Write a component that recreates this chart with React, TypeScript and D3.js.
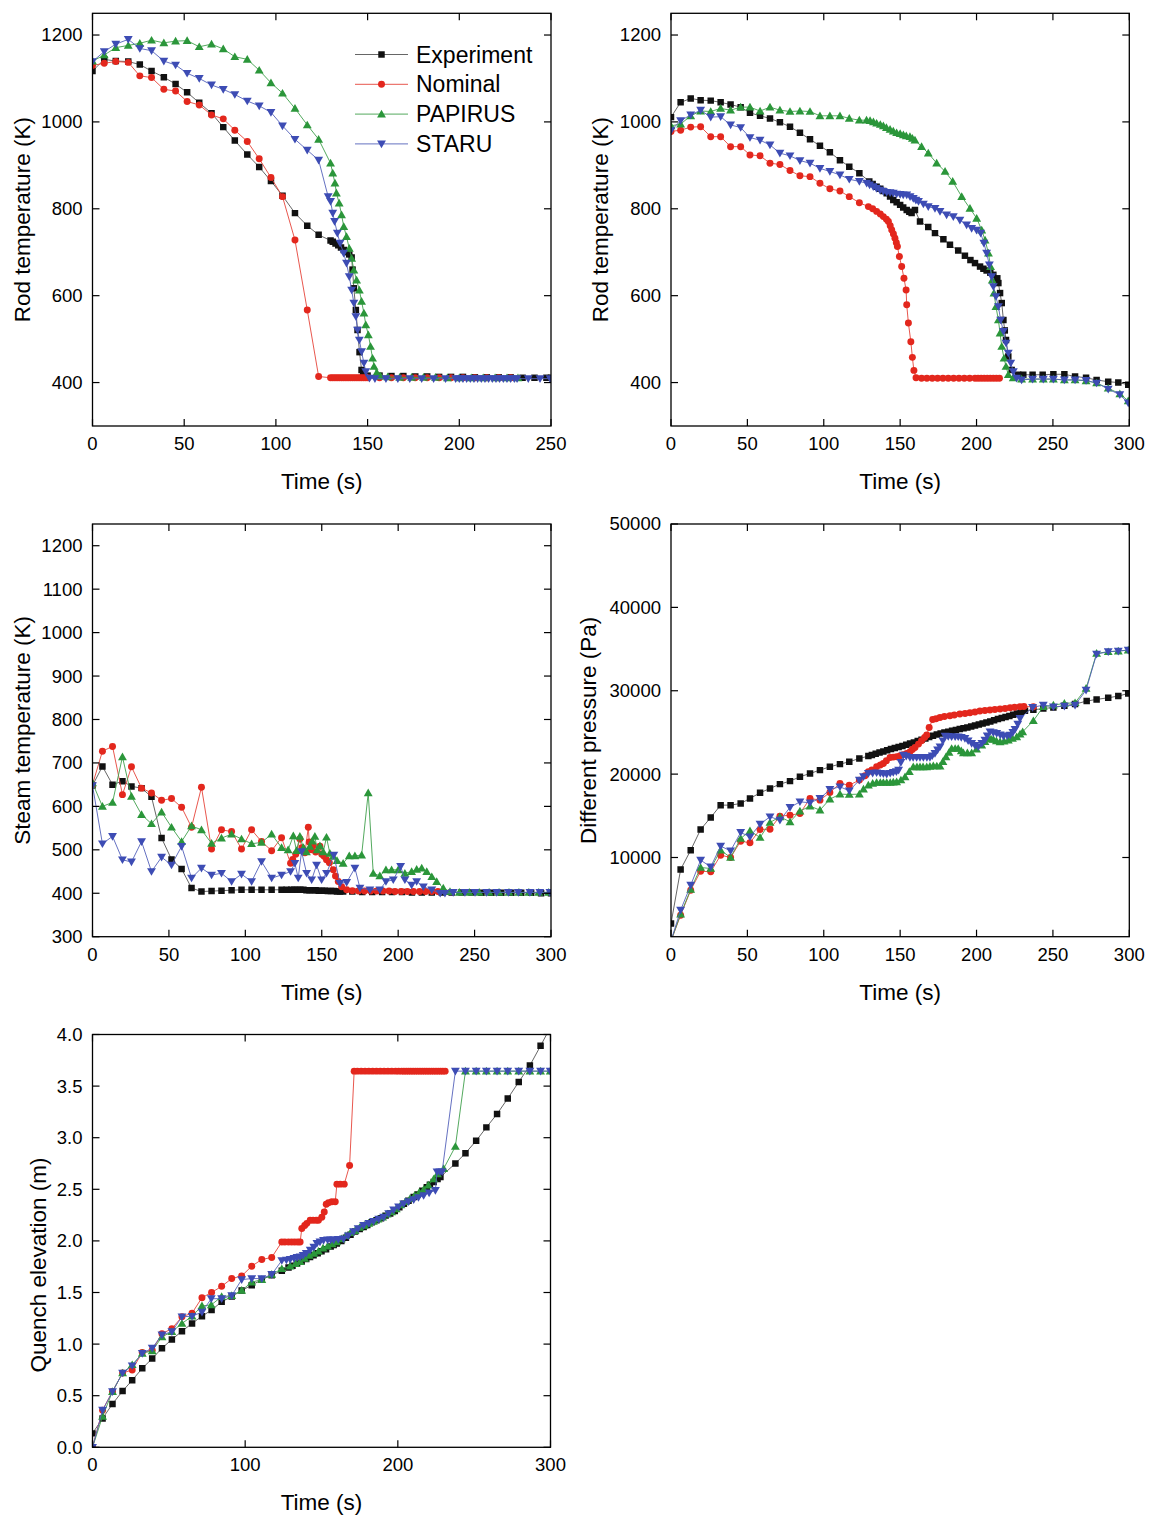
import * as d3 from "d3";

type Pt = [number, number];

// ── Series styling ─────────────────────────────────────────────────────────
const SERIES_NAMES = ["Experiment", "Nominal", "PAPIRUS", "STARU"];
const COLORS = ["#111111", "#e3271d", "#2b963a", "#3d4cb4"];
const LINE_COLORS = ["#555555", "#e5443a", "#3f9f4c", "#5461ba"];
const FONT = "'Liberation Sans', Arial, Helvetica, sans-serif";

// ── Panel 1: rod temperature, 0–250 s ─────────────────────────────────────
const p1Exp: Pt[] = [[0,1117],[6.4,1144],[12.7,1140],[19.5,1139],[25.8,1132],[32.2,1117],[38.9,1103],[45.3,1087],[51.6,1068],[58.2,1044],[64.9,1020],[71.3,988],[77.6,957],[84.4,925],[90.9,896],[97.3,864],[103.6,830],[110.4,790],[117.1,761],[123.3,740],[129.8,727],[131,724],[132.5,720],[134,716],[135.5,711],[137,705],[138.5,700],[140,695],[141.3,688],[141.8,660],[142.5,617],[143.6,567],[144.5,521],[145.6,470],[146.7,429],[147.6,418],[150,416],[156.5,416],[163,415],[169.5,415],[176,414],[182.5,414],[189,413],[195.5,413],[202,413],[208.5,412],[215,412],[221.5,412],[228,412],[234.5,411],[241,411],[247.5,411],[250,411]];
const p1Nom: Pt[] = [[0,1130],[6.4,1135],[12.7,1139],[19.5,1137],[25.8,1106],[32.2,1102],[38.9,1075],[45.3,1071],[51.6,1047],[58.2,1039],[64.9,1016],[71.3,1007],[77.6,981],[84.4,955],[90.9,915],[97.3,872],[103.6,828],[110.4,728],[117.1,567],[123.3,414],[129.8,411],[131,411],[132.2,411],[133.4,411],[134.6,411],[135.8,411],[137,411],[138.2,411],[139.4,411],[140.6,411],[141.8,411],[143,411],[144.2,411],[145.4,411],[146.6,411],[147.8,411],[149,411],[150.2,411],[156.5,411],[163,411],[169.5,411],[176,411],[182.5,411],[189,411],[195.5,411],[202,411],[208.5,411],[215,411],[221.5,411],[228,411]];
const p1Pap: Pt[] = [[0,1140],[6.4,1154],[12.7,1171],[19.5,1176],[25.8,1181],[32.2,1188],[38.9,1182],[45.3,1186],[51.6,1187],[58.2,1173],[64.9,1179],[71.3,1168],[77.6,1150],[84.4,1144],[90.9,1119],[97.3,1090],[103.6,1066],[110.4,1031],[117.1,993],[123.3,960],[129.8,905],[131,882],[132.2,859],[133,836],[134.5,813],[135.8,786],[137,759],[138.5,736],[140,709],[141.3,686],[142.5,659],[144,636],[145.5,613],[146.7,587],[148,560],[149,533],[150.4,510],[151.6,483],[152.7,456],[153.5,437],[155,423],[157,415],[161,413],[167.5,412],[174,412],[180.5,412],[187,412],[193.5,411],[200,411],[206.5,411],[213,411],[219.5,411],[226,411],[232,411]];
const p1Sta: Pt[] = [[0,1139],[6.4,1162],[12.7,1179],[19.5,1190],[25.8,1169],[32.2,1164],[38.9,1140],[45.3,1131],[51.6,1112],[58.2,1100],[64.9,1085],[71.3,1075],[77.6,1063],[84.4,1048],[90.9,1037],[97.3,1022],[103.6,991],[110.4,960],[117.1,935],[123.3,912],[128.5,828],[129.8,817],[131,790],[132,771],[133.5,744],[135,721],[136.9,698],[138.5,675],[140,644],[141.3,613],[142.5,583],[143.6,552],[144.5,521],[145.5,498],[146.7,471],[148,445],[149,425],[151,410],[154,409],[160,409],[166.5,409],[173,409],[179.5,409],[186,409],[192.5,409],[198,409],[200,409],[202,409],[204,409],[206,409],[208,409],[210,409],[212,409],[214,409],[216,409],[218,409],[220,409],[222,409],[224,409],[226,409],[228,409],[230,409],[231.5,409],[237.6,409],[244,409],[249.5,409]];

// ── Panel 2: rod temperature, 0–300 s ─────────────────────────────────────
const p2Exp: Pt[] = [[0,1011],[6.3,1045],[12.9,1054],[19.4,1050],[26,1049],[32.5,1045],[39,1040],[45.6,1034],[51.7,1021],[58.3,1014],[64.8,1008],[71.3,999],[77.9,989],[84.4,975],[91,960],[97.5,945],[104,930],[110.6,912],[116.7,897],[123.3,882],[129.8,863],[132,857],[134.6,851],[137,846],[139,841],[141.2,836],[143.4,828],[145.5,820],[147.7,815],[150,809],[152,803],[154.3,797],[156,793],[157.5,790],[159.7,797],[163,771],[168.4,758],[172.8,744],[178.3,730],[182.6,717],[188,704],[192.4,692],[196,682],[199,675],[202.3,667],[204.5,662],[206.6,658],[209,653],[211,648],[213.6,640],[214.3,629],[215.4,606],[216.5,583],[217.6,544],[218.5,520],[219.3,498],[220.8,460],[223,429],[227.3,418],[230.6,418],[236.7,418],[243.3,418],[250.3,419],[257.5,419],[264.5,414],[271.7,411],[278.6,406],[286.2,402],[292.8,400],[299.3,395]];
const p2Nom: Pt[] = [[0,978],[6.3,981],[12.9,988],[19.4,989],[26,966],[32.5,966],[39,943],[45.6,943],[51.7,924],[58.3,922],[64.8,905],[71.3,902],[77.9,888],[84.4,876],[91,874],[97.5,859],[104,846],[110.6,841],[116.7,828],[123.3,814],[129.2,805],[132,800],[134.6,794],[137,788],[139,782],[141,776],[142.3,771],[143.5,761],[144.5,751],[145.6,742],[146.6,732],[147.5,722],[148.2,713],[149.5,690],[151,667],[152.5,640],[153.9,613],[154.3,579],[155.4,537],[157,494],[158,458],[159,428],[160.4,411],[164,410],[167.5,410],[171,410],[174.5,410],[178,410],[181.5,410],[185,410],[188.5,410],[192,410],[195.5,410],[199,410],[201,410],[203,410],[205,410],[207,410],[209,410],[211,410],[213,410],[215,410]];
const p2Pap: Pt[] = [[0,991],[6.3,995],[12.9,1014],[19.4,1025],[26,1024],[32.5,1031],[39,1027],[45.6,1034],[51.7,1034],[58.3,1025],[64.8,1034],[71.3,1027],[77.9,1024],[84.4,1025],[91,1024],[97.5,1014],[104,1014],[110.6,1014],[116.7,1008],[123.3,1004],[128,1004],[130.3,1003],[132.5,1000],[134.6,997],[137,994],[139,991],[141,987],[143.4,983],[145.5,979],[147.7,975],[150,973],[152.1,970],[154,968],[156.4,966],[158,962],[159.7,958],[164,943],[168.4,928],[173.9,905],[179.4,886],[184.4,863],[190.3,828],[195.7,801],[200.1,778],[203.4,751],[205.6,728],[207.8,698],[209.2,667],[210.3,636],[211.4,606],[212.7,575],[214.3,544],[215.4,514],[216.5,483],[218,456],[219.3,437],[220.8,418],[224,411],[229.5,408],[236.7,408],[243.7,408],[250.3,408],[257.5,406],[264.5,406],[271.7,404],[278.6,399],[286.2,387],[293.8,374],[299.3,358]];
const p2Sta: Pt[] = [[0,980],[6.3,1003],[12.9,1016],[19.4,1027],[26,1011],[32.5,1012],[39,993],[45.6,987],[51.7,964],[58.3,958],[64.8,947],[71.3,928],[77.9,922],[84.4,911],[91,905],[97.5,893],[104,886],[110.6,878],[116.7,868],[123.3,863],[128.1,859],[130,855],[132.4,851],[134.5,847],[136.8,843],[139,840],[141.2,838],[143.4,837],[145.5,836],[147.7,834],[150,833],[152,832],[154.3,832],[156.5,828],[158.6,824],[160.3,820],[162,817],[165.2,811],[168.4,805],[172.8,801],[176.1,794],[180.4,786],[184.8,782],[189.1,774],[193.5,763],[196.8,755],[200,751],[202.7,744],[204.8,721],[206.6,698],[208.4,671],[209.9,644],[211,621],[212.7,598],[214.3,575],[215.8,544],[217.6,518],[219.3,491],[220.8,468],[222.4,445],[224.1,425],[226.2,410],[229.5,406],[236.7,408],[243.7,408],[250.3,408],[257.5,406],[264.5,406],[271.7,405],[278.6,399],[286.2,385],[293.8,372],[299.3,353]];

// ── Panel 3: steam temperature ─────────────────────────────────────────────
const p3Exp: Pt[] = [[0,648],[6.5,692],[13.1,650],[19.6,658],[25.5,646],[32.1,642],[38.6,622],[45.2,527],[51.7,478],[58.3,456],[64.8,412],[71.3,404],[77.9,405],[84.4,406],[91,407],[97.5,408],[104.1,408],[110.6,408],[117.2,408],[123.7,408],[127,408],[130,408],[132,408],[134,408],[136,408],[138,408],[140,407],[142,407],[144,407],[146,407],[148,406],[150,406],[152,406],[154,405],[156,405],[158,405],[160,404],[162,404],[164,404],[170,404],[176.5,403],[183,403],[189.5,403],[196,403],[202.5,403],[209,402],[215.5,402],[222,402],[228.5,402],[235,402],[241.5,402],[248,402],[254.5,401],[261,401],[267.5,401],[274,401],[280.5,401],[287,401],[293.5,400],[300,400]];
const p3Nom: Pt[] = [[0,650],[6.5,727],[13.1,738],[19.6,627],[25.5,691],[32.1,642],[38.6,631],[45.2,614],[51.7,618],[58.3,598],[64.8,552],[71.3,644],[77.9,502],[84.4,546],[91,542],[97.5,502],[104.1,546],[110.6,519],[117.2,498],[123.7,528],[129.6,469],[131,478],[133,490],[135.7,525],[137,505],[139,493],[141.2,552],[141.8,518],[143,500],[144.4,510],[146,495],[148.8,508],[150,490],[151.5,485],[153.1,477],[155,470],[157.5,454],[159,440],[160.8,427],[163,415],[166.3,408],[170,406],[174,405],[178,405],[182,405],[186,405],[190,405],[194,405],[198,404],[202,404],[206,404],[210,404],[214,404],[218,404],[222,404],[226,404]];
const p3Pap: Pt[] = [[0,654],[6.5,600],[13.1,609],[19.6,714],[25.5,623],[32.1,581],[38.6,560],[45.2,587],[51.7,552],[58.3,519],[64.8,555],[71.3,546],[77.9,515],[84.4,527],[91,536],[97.5,525],[104.1,514],[110.6,517],[117.2,536],[123.7,505],[128,500],[131.4,532],[133.5,498],[135.7,531],[138,505],[140,495],[142.2,508],[143.8,520],[145.5,531],[147,500],[148.8,509],[151,495],[153.1,529],[155.3,492],[157.5,485],[160,475],[164,469],[168,486],[171.7,486],[176.1,488],[180.4,631],[183.7,446],[188,440],[192,454],[195.7,454],[200,454],[204.4,446],[208.8,450],[212.1,455],[215.4,458],[218.7,450],[222,438],[225.2,427],[229.5,412],[233.9,404],[240,402],[246.5,402],[253,402],[259.5,402],[266,402],[272.5,402],[279,402],[285.5,402],[292,402],[298.5,402]];
const p3Sta: Pt[] = [[0,648],[6.5,514],[13.1,531],[19.6,477],[25.5,472],[32.1,519],[38.6,450],[45.2,483],[51.7,465],[58.3,508],[64.8,435],[71.3,458],[77.9,442],[84.4,446],[91,427],[97.5,444],[104.1,427],[110.6,473],[117.2,435],[123.7,442],[129.6,450],[132.4,469],[134.6,435],[136.8,496],[140.1,446],[143.4,431],[146.6,465],[149.9,431],[153.1,446],[157.9,488],[161.9,423],[166.3,425],[171.7,458],[175,412],[181.5,408],[188,408],[192,427],[196.8,431],[201.6,462],[204.4,431],[208.8,419],[212.1,427],[216.5,415],[222,408],[227.5,400],[230.6,400],[236,402],[243.7,402],[250.3,402],[257.9,402],[264.5,402],[272.1,402],[278.6,402],[286.2,402],[292.7,402],[299.3,402]];

// ── Panel 4: differential pressure ─────────────────────────────────────────
const p4Exp: Pt[] = [[0,2080],[6.3,8560],[12.9,10880],[19.4,13360],[26,14800],[32.5,16280],[39,16280],[45.6,16480],[51.7,17080],[58.3,17760],[64.8,18280],[71.3,18800],[77.9,19160],[84.4,19680],[91,20080],[97.5,20480],[104,20880],[110.6,21200],[116.7,21480],[123.3,21880],[129.2,22160],[131.5,22300],[134,22440],[136.5,22580],[139,22720],[141.5,22860],[144,23000],[146.5,23120],[149,23240],[151.5,23380],[154,23520],[156.5,23660],[159,23800],[161.5,23960],[164,24120],[166.5,24280],[169,24440],[171.5,24600],[174,24760],[176.5,24880],[179,24980],[181.5,25080],[184,25200],[186.5,25300],[189,25400],[191.5,25500],[194,25600],[196.5,25700],[199,25820],[201.5,25940],[204,26060],[206.5,26180],[209,26320],[211.5,26460],[214,26600],[216.5,26720],[219,26840],[221.5,26980],[224,27120],[226.5,27260],[229,27420],[231.7,27600],[237.2,27720],[243.7,27860],[250.3,28000],[257.5,28200],[264.5,28400],[272.1,28760],[278.6,28960],[286.2,29160],[292.8,29360],[299.3,29680]];
const p4Nom: Pt[] = [[0,0],[6.3,3080],[12.9,6080],[19.4,8360],[26,8280],[32.5,10280],[39,10000],[45.6,11960],[51.7,11760],[58.3,13360],[64.8,13400],[71.3,14960],[77.9,15080],[84.4,15280],[91,17080],[97.5,16880],[104,17800],[110.6,18880],[116.7,18680],[123.3,19280],[127,19800],[129.2,20280],[131.5,20500],[134.6,20880],[137,21100],[139,21280],[141,21600],[143.4,22000],[145.5,22040],[147.7,22080],[150,22200],[152,22340],[154.3,22480],[156.5,22700],[158,22950],[159.7,23200],[162,23600],[164,24000],[166,24400],[167.4,24680],[169,25600],[171.3,26560],[173.5,26650],[176.1,26800],[179,26900],[182.6,27000],[185.5,27100],[189.1,27200],[192.5,27280],[195.7,27360],[199,27460],[202.2,27560],[205.5,27620],[208.8,27680],[212,27740],[215.4,27800],[218.7,27880],[222,27960],[225,28020],[228.4,28080],[231,28100],[237.2,28080]];
const p4Pap: Pt[] = [[0,0],[6.3,3200],[12.9,6160],[19.4,8800],[26,8680],[32.5,10880],[39,10000],[45.6,12280],[51.7,13200],[58.3,12400],[64.8,14200],[71.3,14880],[77.9,14280],[84.4,15560],[91,16160],[97.5,15680],[104,17000],[110.6,17600],[116.7,17560],[123.3,17600],[126,18200],[129.2,18680],[132,18900],[134.6,19000],[137,19000],[139,19000],[141.2,19000],[143.5,19000],[145.5,19040],[147.7,19080],[150.5,19300],[153.2,19680],[156,20300],[158.6,20880],[161,20880],[163,20880],[165,20880],[167.4,20880],[169.5,20940],[171.7,21000],[174,20980],[176.1,20960],[178,21500],[180,22080],[182,22600],[183.7,23080],[186,23080],[188,23080],[190,22800],[191.4,22560],[194,22560],[196.8,22560],[200,23000],[203.4,23480],[205.5,23900],[207.8,24280],[209.5,24200],[211,24160],[213,24000],[215.4,23880],[218,23950],[220.8,24080],[223.5,24280],[226.3,24480],[228.5,24800],[230.2,25080],[237.2,26400],[243.7,28080],[250.3,28280],[257.5,28480],[264.5,28560],[271.7,30280],[278.6,34480],[286.2,34680],[292.8,34760],[299.3,34880]];
const p4Sta: Pt[] = [[0,0],[6.3,3680],[12.9,6680],[19.4,9680],[26,8880],[32.5,11360],[39,10800],[45.6,13000],[51.7,12480],[58.3,14000],[64.8,14880],[71.3,14480],[77.9,16000],[84.4,16680],[91,16560],[97.5,17080],[104,18160],[110.6,18480],[116.7,18000],[123.3,19280],[126,19700],[129.2,20080],[132,20120],[134.6,20160],[137,20100],[139,20050],[141.2,20000],[143.5,20100],[145.5,20200],[147.5,20300],[149,20480],[150.5,21400],[152.1,22280],[154,22150],[156.4,22000],[158.5,22000],[160.8,22000],[163,22000],[165.2,22000],[167.5,22000],[169.5,22000],[171,22200],[172.8,22480],[174.5,22900],[176.1,23280],[178,24000],[179.4,24560],[181.5,24520],[183.7,24480],[186,24480],[188,24480],[190,24400],[192.4,24280],[194.5,24000],[196.8,23680],[199,23450],[201.1,23280],[203.5,23700],[205.5,24080],[207,24600],[208.8,25080],[211,24980],[213.2,24880],[215.5,24700],[217.6,24560],[220,24600],[222,24680],[223.8,25000],[225.2,25360],[227,26000],[228.5,26680],[236.7,28000],[243.7,28280],[250.3,28080],[257.5,28160],[264.5,28280],[271.7,30080],[278.6,34400],[286.2,34680],[292.8,34760],[299.3,34880]];

// ── Panel 5: quench elevation ──────────────────────────────────────────────
const p5Exp: Pt[] = [[0,0.135],[6.6,0.28],[13.1,0.42],[19.7,0.545],[26,0.65],[32.6,0.765],[39.1,0.86],[45.5,0.96],[52,1.045],[58.6,1.125],[65.2,1.2],[71.7,1.27],[78,1.33],[84.6,1.41],[91.2,1.46],[97.7,1.52],[104.3,1.57],[110.9,1.625],[117.4,1.668],[124,1.71],[128.4,1.742],[131,1.76],[134,1.78],[137,1.8],[140,1.825],[142.5,1.845],[144.8,1.86],[147.5,1.88],[150,1.9],[153,1.92],[156,1.945],[158,1.96],[160,1.975],[163,2.0],[166,2.03],[169,2.06],[172,2.09],[175,2.115],[177.6,2.135],[180,2.155],[183,2.18],[186,2.2],[189,2.22],[192,2.245],[195,2.265],[198,2.29],[201,2.325],[204,2.36],[207,2.39],[210.4,2.425],[213,2.45],[216,2.485],[219,2.52],[221,2.545],[223.5,2.57],[226,2.6],[227.9,2.62],[237.7,2.75],[244.3,2.85],[251.3,2.97],[258,3.1],[265,3.23],[272,3.38],[279.2,3.54],[286.5,3.7],[293.5,3.89],[301,4.1]];
const p5Nom: Pt[] = [[0,0],[6.6,0.36],[13.1,0.54],[19.7,0.72],[26,0.75],[32.6,0.92],[39.1,0.94],[45.5,1.1],[52,1.15],[58.6,1.265],[65.2,1.3],[71.7,1.45],[78,1.5],[84.6,1.56],[91.2,1.635],[97.7,1.66],[104.3,1.755],[110.9,1.82],[117.4,1.84],[124,1.99],[126,1.99],[128.4,1.99],[130.5,1.99],[132.5,1.99],[134.5,1.99],[136,1.99],[137.1,2.12],[139,2.15],[140.4,2.17],[142.6,2.2],[144.5,2.2],[146.5,2.2],[148,2.2],[150.2,2.23],[151.8,2.28],[153.1,2.355],[154.6,2.37],[156.8,2.38],[159,2.38],[160.1,2.55],[162.3,2.55],[164.9,2.55],[168.4,2.73],[171.4,3.645],[173.5,3.645],[176,3.645],[178.5,3.645],[181,3.645],[183.5,3.645],[186,3.645],[188.5,3.645],[191,3.645],[193.5,3.645],[196,3.645],[198.5,3.645],[200.5,3.645],[202.5,3.645],[204,3.645],[205.5,3.645],[207,3.645],[208.5,3.645],[210,3.645],[211.5,3.645],[213,3.645],[214.5,3.645],[216,3.645],[217.5,3.645],[219,3.645],[220.5,3.645],[222,3.645],[223.5,3.645],[225,3.645],[226.5,3.645],[228,3.645],[229.5,3.645],[231,3.645]];
const p5Pap: Pt[] = [[0,0],[6.6,0.3],[13.1,0.54],[19.7,0.72],[26,0.8],[32.6,0.91],[39.1,0.935],[45.5,1.07],[52,1.12],[58.6,1.2],[65.2,1.27],[71.7,1.37],[77.8,1.38],[84.6,1.46],[91.2,1.47],[97.7,1.52],[104.3,1.6],[110.9,1.625],[117.4,1.675],[124,1.73],[129.5,1.755],[133,1.78],[136,1.8],[139,1.83],[142,1.86],[145,1.88],[148,1.9],[151,1.93],[154,1.95],[157,1.97],[160,1.99],[163,2.02],[166,2.05],[169,2.08],[172,2.1],[175,2.13],[178,2.15],[181,2.17],[184,2.19],[187,2.21],[190,2.23],[193,2.26],[196,2.28],[199,2.31],[202,2.35],[205,2.38],[208,2.41],[211,2.44],[214,2.47],[217,2.5],[220,2.54],[223.5,2.6],[226,2.65],[230,2.7],[237.7,2.915],[244.3,3.645],[251.3,3.645],[258,3.645],[265,3.645],[272,3.645],[279.2,3.645],[286.5,3.645],[293.5,3.645],[299.8,3.645]];
const p5Sta: Pt[] = [[0,0],[6.6,0.36],[13.1,0.54],[19.7,0.72],[26,0.79],[32.6,0.91],[39.1,0.96],[45.5,1.09],[52,1.12],[58.6,1.265],[65.2,1.27],[71.7,1.31],[77.8,1.44],[84.6,1.44],[91.2,1.47],[97.7,1.625],[104.3,1.635],[110.9,1.635],[117.4,1.675],[124,1.81],[127,1.815],[129.5,1.82],[132,1.83],[134,1.84],[136,1.845],[138,1.86],[140,1.88],[142.6,1.91],[145,1.94],[147,1.975],[149,1.99],[151.3,2.005],[154,2.01],[156,2.01],[158,2.01],[161,2.015],[164.4,2.02],[167.5,2.05],[171,2.09],[174,2.12],[177.6,2.15],[181,2.17],[184.1,2.19],[187.5,2.21],[190.7,2.23],[194,2.265],[197.2,2.3],[200.5,2.33],[203.8,2.36],[207,2.38],[210.4,2.4],[213.5,2.42],[216.9,2.44],[220.5,2.465],[224.6,2.49],[225.7,2.67],[227.5,2.67],[229,2.67],[237.7,3.645],[244.3,3.645],[251.3,3.645],[258,3.645],[265,3.645],[272,3.645],[279.2,3.645],[286.5,3.645],[293.5,3.645],[299.8,3.645]];

// ── Ticks ──────────────────────────────────────────────────────────────────
const ticks250 = [0, 50, 100, 150, 200, 250];
const ticks300 = [0, 50, 100, 150, 200, 250, 300];
const ticks300Coarse = [0, 100, 200, 300];
const rodTempTicks = [400, 600, 800, 1000, 1200];
const steamTempTicks = [300, 400, 500, 600, 700, 800, 900, 1000, 1100, 1200];
const pressureTicks = [10000, 20000, 30000, 40000, 50000];
const elevationTicks = [0, 0.5, 1, 1.5, 2, 2.5, 3, 3.5, 4];

const symSquare = d3.symbol().type(d3.symbolSquare).size(42)() as string;
const symCircle = d3.symbol().type(d3.symbolCircle).size(38)() as string;
const symTri = d3.symbol().type(d3.symbolTriangle).size(34)() as string;

function Marker({ kind, x, y }: { kind: number; x: number; y: number }) {
  const fill = COLORS[kind];
  if (kind === 0) return <path d={symSquare} transform={`translate(${x},${y})`} fill={fill} />;
  if (kind === 1) return <path d={symCircle} transform={`translate(${x},${y})`} fill={fill} />;
  if (kind === 2) return <path d={symTri} transform={`translate(${x},${y + 0.8})`} fill={fill} />;
  return <path d={symTri} transform={`translate(${x},${y - 0.8}) rotate(180)`} fill={fill} />;
}

interface PanelProps {
  id: string;
  left: number;
  top: number;
  width: number;
  height: number;
  xDomain: [number, number];
  yDomain: [number, number];
  xTicks: number[];
  yTicks: number[];
  yFmt: (v: number) => string;
  series: Pt[][];
  yTitle: string;
  yTitleOffset: number;
  yTitleCenter?: number;
  legend?: boolean;
}

function Panel(p: PanelProps) {
  const x = d3.scaleLinear().domain(p.xDomain).range([p.left, p.left + p.width]);
  const y = d3.scaleLinear().domain(p.yDomain).range([p.top + p.height, p.top]);
  const line = d3.line<Pt>().x((d) => x(d[0])).y((d) => y(d[1]));
  const bottom = p.top + p.height;
  const right = p.left + p.width;
  const tl = 7;
  const yMid = p.yTitleCenter ?? p.top + p.height / 2;

  return (
    <g>
      <defs>
        <clipPath id={p.id}>
          <rect x={p.left} y={p.top} width={p.width} height={p.height} />
        </clipPath>
      </defs>
      <g clipPath={`url(#${p.id})`}>
        {p.series.map((s, i) => (
          <g key={i}>
            <path d={line(s) ?? ""} fill="none" stroke={LINE_COLORS[i]} strokeWidth={0.9} />
            {s.map((d, j) => (
              <Marker key={j} kind={i} x={x(d[0])} y={y(d[1])} />
            ))}
          </g>
        ))}
      </g>
      <rect x={p.left} y={p.top} width={p.width} height={p.height} fill="none" stroke="#000" strokeWidth={1.3} />
      {p.xTicks.map((t) => (
        <g key={`x${t}`}>
          <line x1={x(t)} x2={x(t)} y1={bottom} y2={bottom - tl} stroke="#000" strokeWidth={1.2} />
          <line x1={x(t)} x2={x(t)} y1={p.top} y2={p.top + tl} stroke="#000" strokeWidth={1.2} />
          <text x={x(t)} y={bottom + 24} textAnchor="middle" fontSize={18.5} fontFamily={FONT}>
            {t}
          </text>
        </g>
      ))}
      {p.yTicks.map((t) => (
        <g key={`y${t}`}>
          <line x1={p.left} x2={p.left + tl} y1={y(t)} y2={y(t)} stroke="#000" strokeWidth={1.2} />
          <line x1={right} x2={right - tl} y1={y(t)} y2={y(t)} stroke="#000" strokeWidth={1.2} />
          <text x={p.left - 10} y={y(t)} dy="0.35em" textAnchor="end" fontSize={18.5} fontFamily={FONT}>
            {p.yFmt(t)}
          </text>
        </g>
      ))}
      <text x={p.left + p.width / 2} y={bottom + 63} textAnchor="middle" fontSize={22.5} fontFamily={FONT}>
        Time (s)
      </text>
      <text
        transform={`translate(${p.left - p.yTitleOffset},${yMid}) rotate(-90)`}
        textAnchor="middle"
        fontSize={22.5}
        fontFamily={FONT}
      >
        {p.yTitle}
      </text>
      {p.legend &&
        SERIES_NAMES.map((name, i) => {
          const ly = 54.5 + i * 29.8;
          return (
            <g key={name}>
              <line x1={355} x2={408} y1={ly} y2={ly} stroke={LINE_COLORS[i]} strokeWidth={0.9} />
              <Marker kind={i} x={381.5} y={ly} />
              <text x={416} y={ly} dy="0.35em" fontSize={23} fontFamily={FONT}>
                {name}
              </text>
            </g>
          );
        })}
    </g>
  );
}

const intFmt = (v: number) => String(v);
const decFmt = (v: number) => v.toFixed(1);

export default function App() {
  return (
    <svg
      width={1157}
      height={1522}
      style={{ position: "absolute", left: 0, top: 0, background: "#fff" }}
    >
      <Panel id="c1" left={92.5} top={13.3} width={458.5} height={412.7}
        xDomain={[0, 250]} yDomain={[300, 1250]} xTicks={ticks250} yTicks={rodTempTicks}
        yFmt={intFmt} series={[p1Exp, p1Nom, p1Pap, p1Sta]}
        yTitle="Rod temperature (K)" yTitleOffset={63} legend />
      <Panel id="c2" left={671} top={13.3} width={458.3} height={412.7}
        xDomain={[0, 300]} yDomain={[300, 1250]} xTicks={ticks300} yTicks={rodTempTicks}
        yFmt={intFmt} series={[p2Exp, p2Nom, p2Pap, p2Sta]}
        yTitle="Rod temperature (K)" yTitleOffset={63} />
      <Panel id="c3" left={92.5} top={524} width={458.5} height={412.7}
        xDomain={[0, 300]} yDomain={[300, 1250]} xTicks={ticks300} yTicks={steamTempTicks}
        yFmt={intFmt} series={[p3Exp, p3Nom, p3Pap, p3Sta]}
        yTitle="Steam temperature (K)" yTitleOffset={63} />
      <Panel id="c4" left={671} top={524} width={458.3} height={412.7}
        xDomain={[0, 300]} yDomain={[500, 50000]} xTicks={ticks300} yTicks={pressureTicks}
        yFmt={intFmt} series={[p4Exp, p4Nom, p4Pap, p4Sta]}
        yTitle="Different pressure (Pa)" yTitleOffset={75} />
      <Panel id="c5" left={92.5} top={1034.5} width={458} height={412.8}
        xDomain={[0, 300]} yDomain={[0, 4]} xTicks={ticks300Coarse} yTicks={elevationTicks}
        yFmt={decFmt} series={[p5Exp, p5Nom, p5Pap, p5Sta]}
        yTitle="Quench elevation (m)" yTitleOffset={47} yTitleCenter={1265} />
    </svg>
  );
}
